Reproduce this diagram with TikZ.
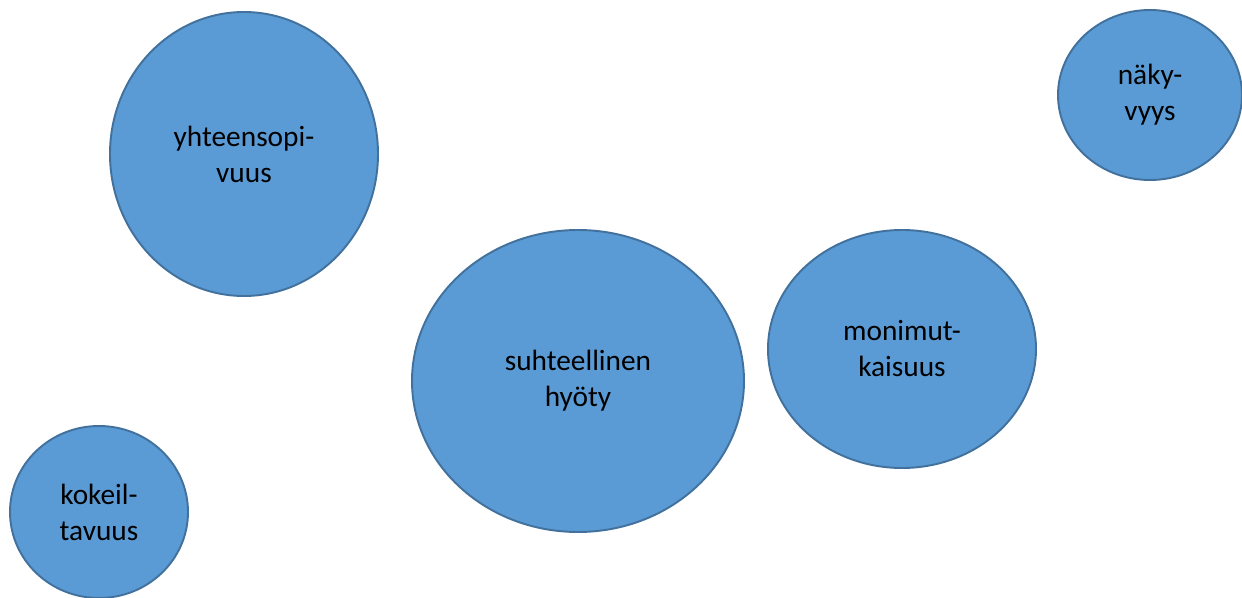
\documentclass[tikz,border=0pt]{standalone}
\usepackage{fontspec}
\setmainfont{Carlito}
\usetikzlibrary{shapes.geometric}

\definecolor{bubblefill}{HTML}{5B9BD5}
\definecolor{bubbleline}{HTML}{41719C}

\begin{document}
\begin{tikzpicture}
[x=0.02cm, y=-0.02cm, font=\fontsize{16.7}{20.5}\selectfont,
every node/.style={draw=bubbleline, fill=bubblefill, line width=1.1pt,
  ellipse, inner sep=0pt, align=center, text=black}
]

\useasboundingbox (0,0) rectangle (1242,598);

% centres of the bubbles
\path
(244,154) coordinate (c1)
(1150,95) coordinate (c2)
(578,381) coordinate (c3)
(902,349) coordinate (c4)
(99,512) coordinate (c5)
;

% bubbles
\node[minimum width=268*0.02cm, minimum height=284*0.02cm] (yhteen) at (c1) {yhteensopi-\\vuus};
\node[minimum width=184*0.02cm, minimum height=170*0.02cm] (naky) at (c2) {näky-\\vyys};
\node[minimum width=332*0.02cm, minimum height=302*0.02cm] (hyoty) at (c3) {suhteellinen\\hyöty};
\node[minimum width=268*0.02cm, minimum height=238*0.02cm] (monim) at (c4) {monimut-\\kaisuus};
\node[minimum width=178*0.02cm, minimum height=172*0.02cm] (kokeil) at (c5) {kokeil-\\tavuus};

\end{tikzpicture}
\end{document}
